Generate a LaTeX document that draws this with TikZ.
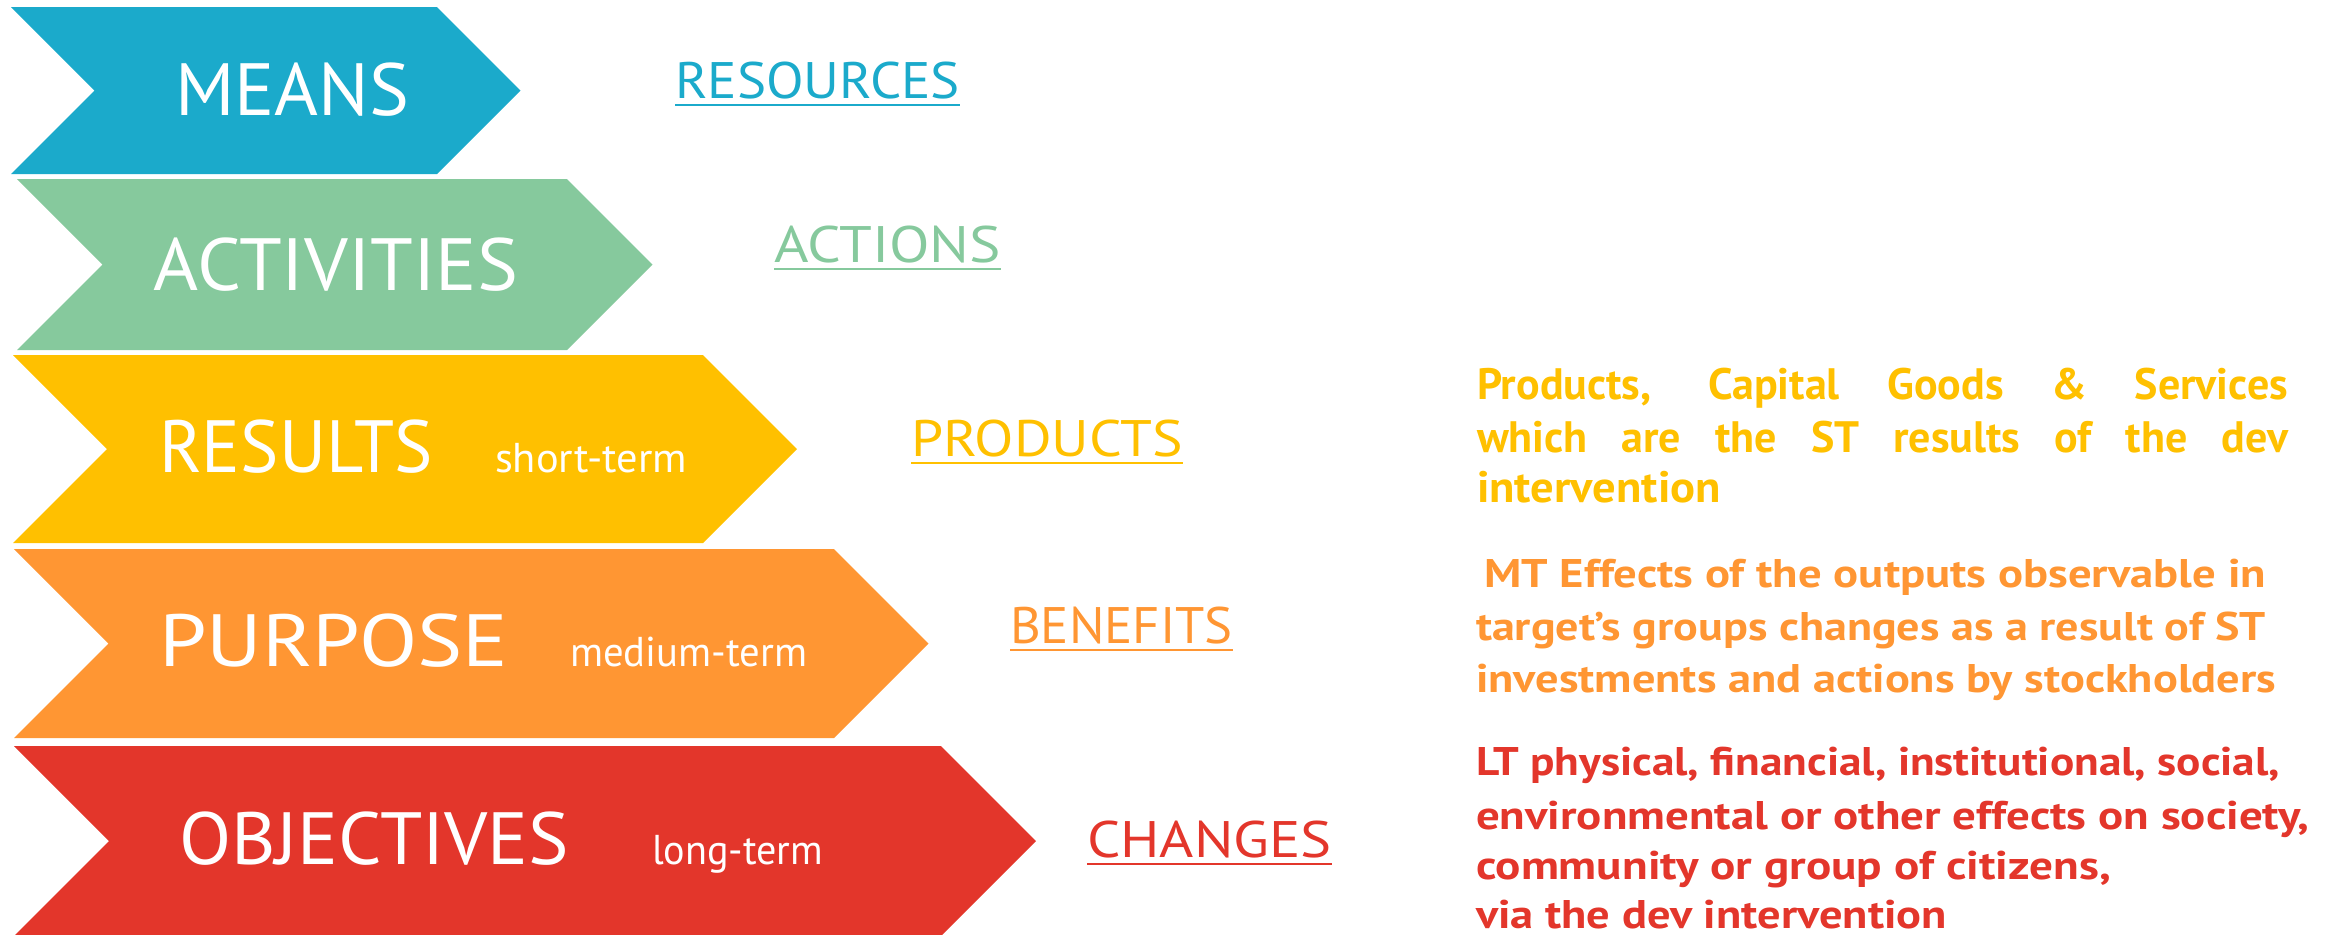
\documentclass[tikz,border=0pt]{standalone}
\usepackage{fontspec}
\setmainfont{PT Sans}
\usepackage{graphicx}
\usetikzlibrary{calc}
\definecolor{cMeans}{HTML}{1BAACB}
\definecolor{cAct}{HTML}{86C99D}
\definecolor{cRes}{HTML}{FFC000}
\definecolor{cPur}{HTML}{FF9633}
\definecolor{cObj}{HTML}{E3362B}
\newdimen\pxu \pxu=0.3pt
\newcommand{\hfit}[2]{\resizebox{#1\pxu}{\height}{#2}}
\newcommand{\jline}[2]{\makebox[#1\pxu][s]{#2}}
% chevron: colour, x left, x right (top), y top, y bottom
\newcommand{\chevron}[5]{%
  \fill[#1] (#2,#4) -- (#3,#4) -- ({#3+(#5-#4)/2},{(#4+#5)/2}) -- (#3,#5)
    -- (#2,#5) -- ({#2+(#5-#4)/2},{(#4+#5)/2}) -- cycle;}
\begin{document}
\begin{tikzpicture}[x=0.3pt,y=-0.3pt,
  biglbl/.style={inner sep=0pt, outer sep=0pt, anchor=base west, text=white,
    font=\fontsize{22.2}{26}\selectfont},
  sublbl/.style={inner sep=0pt, outer sep=0pt, anchor=base west, text=white,
    font=\fontsize{12.5}{15}\selectfont},
  ulbl/.style={inner sep=0pt, outer sep=0pt, anchor=base west,
    font=\fontsize{15.4}{18}\selectfont},
  uline/.style={line width=0.8pt},
  paraA/.style={inner sep=0pt, outer sep=0pt, anchor=base west,
    font=\bfseries\fontsize{13.2}{15.6}\selectfont},
  paraB/.style={inner sep=0pt, outer sep=0pt, anchor=base west,
    font=\bfseries\fontsize{12}{15.6}\selectfont}
]
\useasboundingbox (0,0) rectangle (2338,934);

% chevrons
\chevron{cMeans}{11}{437}{7}{174}
\chevron{cAct}{17}{567}{179}{350}
\chevron{cRes}{13}{703}{355}{543}
\chevron{cPur}{14}{834}{549}{738}
\chevron{cObj}{14}{941}{746}{936}

% chevron labels
\node[biglbl] (means) at (175,115) {\hfit{234}{MEANS}};
\node[biglbl] (activities) at (154,290) {\hfit{364}{ACTIVITIES}};
\node[biglbl] (results) at (159,472) {\hfit{274}{RESULTS}};
\node[sublbl] (short) at (495,472) {\hfit{192}{short-term}};
\node[biglbl] (purpose) at (159,666) {\hfit{349}{PURPOSE}};
\node[sublbl] (medium) at (570,666) {\hfit{237}{medium-term}};
\node[biglbl] (objectives) at (179,864) {\hfit{390}{OBJECTIVES}};
\node[sublbl] (long) at (652,864) {\hfit{171}{long-term}};

% underlined labels
\node[ulbl, text=cMeans] (resources) at (675,98) {\hfit{285}{RESOURCES}};
\draw[uline, cMeans] ($(resources.base west)+(0,7)$) -- ($(resources.base east)+(0,7)$);
\node[ulbl, text=cAct] (actions) at (774,262) {\hfit{227}{ACTIONS}};
\draw[uline, cAct] ($(actions.base west)+(0,7)$) -- ($(actions.base east)+(0,7)$);
\node[ulbl, text=cRes] (products) at (911,456) {\hfit{272}{PRODUCTS}};
\draw[uline, cRes] ($(products.base west)+(0,7)$) -- ($(products.base east)+(0,7)$);
\node[ulbl, text=cPur] (benefits) at (1010,643) {\hfit{223}{BENEFITS}};
\draw[uline, cPur] ($(benefits.base west)+(0,7)$) -- ($(benefits.base east)+(0,7)$);
\node[ulbl, text=cObj] (changes) at (1087,857) {\hfit{245}{CHANGES}};
\draw[uline, cObj] ($(changes.base west)+(0,7)$) -- ($(changes.base east)+(0,7)$);

% paragraph 1
\node[paraA, text=cRes] (p1a) at (1477,399) {\jline{811}{Products, Capital Goods \& Services}};
\node[paraA, text=cRes] (p1b) at (1477,452) {\jline{811}{which are the ST results of the dev}};
\node[paraA, text=cRes] (p1c) at (1477,502) {\hfit{244}{intervention}};

% paragraph 2
\node[paraB, text=cPur] (p2a) at (1484,587) {\hfit{782}{MT Effects of the outputs observable in}};
\node[paraB, text=cPur] (p2b) at (1476,640) {\hfit{790}{target’s groups changes as a result of ST}};
\node[paraB, text=cPur] (p2c) at (1476,692) {\hfit{800}{investments and actions by stockholders}};

% paragraph 3
\node[paraB, text=cObj] (p3a) at (1476,775) {\hfit{804}{LT physical, financial, institutional, social,}};
\node[paraB, text=cObj] (p3b) at (1476,829) {\hfit{833}{environmental or other effects on society,}};
\node[paraB, text=cObj] (p3c) at (1476,879) {\hfit{635}{community or group of citizens,}};
\node[paraB, text=cObj] (p3d) at (1476,928) {\hfit{471}{via the dev intervention}};
\end{tikzpicture}
\end{document}
